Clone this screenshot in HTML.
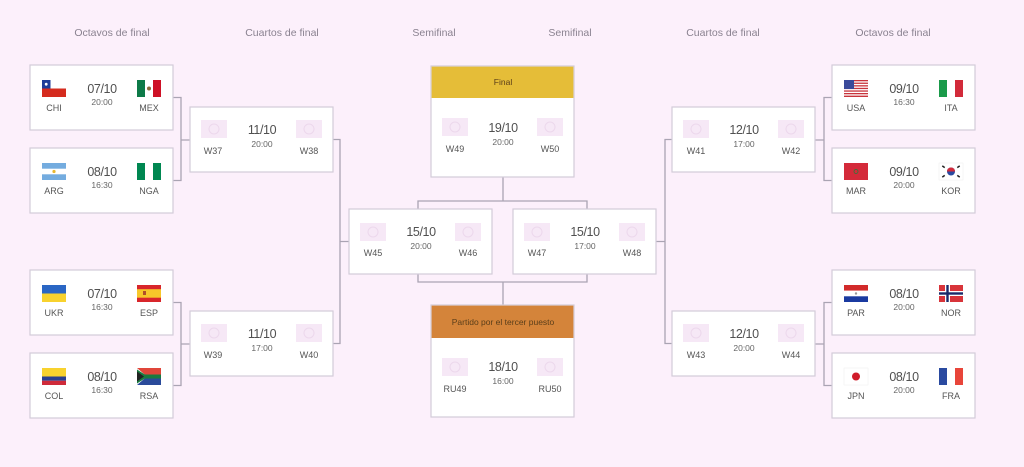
<!DOCTYPE html>
<html><head><meta charset="utf-8">
<style>
html,body{margin:0;padding:0;background:#fcf0fb;}
svg{display:block;}
text{font-family:"Liberation Sans",sans-serif;fill:#555;}
.lbl{font-size:10.5px;fill:#8a8290;text-anchor:middle;}
.date{font-size:12.5px;text-anchor:middle;fill:#505050;letter-spacing:-0.4px;}
.time{font-size:8.5px;text-anchor:middle;fill:#666;}
.code{font-size:9px;text-anchor:middle;fill:#555;}
.hdr{font-size:8.5px;text-anchor:middle;fill:#5a3e1a;}
.box{fill:#fff;stroke:#d3ccd9;stroke-width:1.2;}
.ln{fill:none;stroke:#aaa4b3;stroke-width:1.3;}
.ph{fill:#f6e8f6;}
.phc{fill:none;stroke:#ecd8ec;stroke-width:1;}
</style></head><body>
<svg width="1024" height="467" viewBox="0 0 1024 467" xmlns="http://www.w3.org/2000/svg">
<defs>
<g id="ph"><rect class="ph" x="0" y="0" width="26" height="18"/><circle class="phc" cx="13" cy="9" r="5"/></g>
</defs>
<rect width="1024" height="467" fill="#fcf0fb"/>

<!-- labels -->
<text class="lbl" x="112" y="36">Octavos de final</text>
<text class="lbl" x="282" y="36">Cuartos de final</text>
<text class="lbl" x="434" y="36">Semifinal</text>
<text class="lbl" x="570" y="36">Semifinal</text>
<text class="lbl" x="723" y="36">Cuartos de final</text>
<text class="lbl" x="893" y="36">Octavos de final</text>

<!-- connectors -->
<path class="ln" d="M173,97.5 H181 V180.5 H173 M181,140 H190"/>
<path class="ln" d="M173,302.5 H181 V385.5 H173 M181,344 H190"/>
<path class="ln" d="M333,139.5 H340 V343.5 H333 M340,241.5 H349"/>
<path class="ln" d="M418,209 V201 H587 V209 M503,201 V177"/>
<path class="ln" d="M418,274 V282 H587 V274 M503,282 V305"/>
<path class="ln" d="M672,139.5 H665 V343.5 H672 M656,241.5 H665"/>
<path class="ln" d="M832,97.5 H824 V180.5 H832 M815,140 H824"/>
<path class="ln" d="M832,302.5 H824 V385.5 H832 M815,344 H824"/>

<!-- ============ LEFT R16 ============ -->
<!-- CHI-MEX -->
<g transform="translate(30,65)">
<rect class="box" x="0" y="0" width="143" height="65"/>
<g transform="translate(12,15)"><rect width="24" height="8.5" fill="#fff"/><rect y="8.5" width="24" height="8.5" fill="#d52b1e"/><rect width="8.5" height="8.5" fill="#1f3d99"/><circle cx="4.2" cy="4.2" r="1.4" fill="#fff"/></g>
<text class="code" x="24" y="46">CHI</text>
<text class="date" x="72" y="28">07/10</text>
<text class="time" x="72" y="40">20:00</text>
<g transform="translate(107,15)"><rect width="8" height="17" fill="#0d7a48"/><rect x="8" width="8" height="17" fill="#fff"/><rect x="16" width="8" height="17" fill="#ce1126"/><circle cx="12" cy="8.5" r="2" fill="#8a6a3a"/></g>
<text class="code" x="119" y="46">MEX</text>
</g>
<!-- ARG-NGA -->
<g transform="translate(30,148)">
<rect class="box" x="0" y="0" width="143" height="65"/>
<g transform="translate(12,15)"><rect width="24" height="17" fill="#fff"/><rect width="24" height="5.7" fill="#74acdf"/><rect y="11.3" width="24" height="5.7" fill="#74acdf"/><circle cx="12" cy="8.5" r="1.6" fill="#e8b830"/></g>
<text class="code" x="24" y="46">ARG</text>
<text class="date" x="72" y="28">08/10</text>
<text class="time" x="72" y="40">16:30</text>
<g transform="translate(107,15)"><rect width="8" height="17" fill="#008751"/><rect x="8" width="8" height="17" fill="#fff"/><rect x="16" width="8" height="17" fill="#008751"/></g>
<text class="code" x="119" y="46">NGA</text>
</g>
<!-- UKR-ESP -->
<g transform="translate(30,270)">
<rect class="box" x="0" y="0" width="143" height="65"/>
<g transform="translate(12,15)"><rect width="24" height="8.5" fill="#2a66c4"/><rect y="8.5" width="24" height="8.5" fill="#f8d22e"/></g>
<text class="code" x="24" y="46">UKR</text>
<text class="date" x="72" y="28">07/10</text>
<text class="time" x="72" y="40">16:30</text>
<g transform="translate(107,15)"><rect width="24" height="17" fill="#d8262b"/><rect y="4.2" width="24" height="8.5" fill="#f7c72a"/><rect x="6" y="6" width="3" height="4" fill="#b0502a"/></g>
<text class="code" x="119" y="46">ESP</text>
</g>
<!-- COL-RSA -->
<g transform="translate(30,353)">
<rect class="box" x="0" y="0" width="143" height="65"/>
<g transform="translate(12,15)"><rect width="24" height="8.5" fill="#f8d22e"/><rect y="8.5" width="24" height="4.25" fill="#2a3f8f"/><rect y="12.75" width="24" height="4.25" fill="#cf2a3a"/></g>
<text class="code" x="24" y="46">COL</text>
<text class="date" x="72" y="28">08/10</text>
<text class="time" x="72" y="40">16:30</text>
<g transform="translate(107,15)"><rect width="24" height="8.5" fill="#e0463a"/><rect y="8.5" width="24" height="8.5" fill="#2a4a9a"/><path d="M0,0 L10,8.5 L0,17 Z" fill="#fff"/><path d="M0,1.5 L11,8.5 L0,15.5 Z M8,6.5 H24 V10.5 H8 Z" fill="#1a7a40"/><path d="M0,3.5 L7,8.5 L0,13.5 Z" fill="#222"/></g>
<text class="code" x="119" y="46">RSA</text>
</g>

<!-- ============ LEFT QF ============ -->
<g transform="translate(190,107)">
<rect class="box" x="0" y="0" width="143" height="65"/>
<use href="#ph" x="11" y="13"/><use href="#ph" x="106" y="13"/>
<text class="code" x="23" y="47">W37</text>
<text class="date" x="72" y="27">11/10</text>
<text class="time" x="72" y="40">20:00</text>
<text class="code" x="119" y="47">W38</text>
</g>
<g transform="translate(190,311)">
<rect class="box" x="0" y="0" width="143" height="65"/>
<use href="#ph" x="11" y="13"/><use href="#ph" x="106" y="13"/>
<text class="code" x="23" y="47">W39</text>
<text class="date" x="72" y="27">11/10</text>
<text class="time" x="72" y="40">17:00</text>
<text class="code" x="119" y="47">W40</text>
</g>

<!-- ============ SEMIS ============ -->
<g transform="translate(349,209)">
<rect class="box" x="0" y="0" width="143" height="65"/>
<use href="#ph" x="11" y="14"/><use href="#ph" x="106" y="14"/>
<text class="code" x="24" y="47">W45</text>
<text class="date" x="72" y="27">15/10</text>
<text class="time" x="72" y="40">20:00</text>
<text class="code" x="119" y="47">W46</text>
</g>
<g transform="translate(513,209)">
<rect class="box" x="0" y="0" width="143" height="65"/>
<use href="#ph" x="11" y="14"/><use href="#ph" x="106" y="14"/>
<text class="code" x="24" y="47">W47</text>
<text class="date" x="72" y="27">15/10</text>
<text class="time" x="72" y="40">17:00</text>
<text class="code" x="119" y="47">W48</text>
</g>

<!-- ============ FINAL ============ -->
<g transform="translate(431,66)">
<rect class="box" x="0" y="0" width="143" height="111"/>
<rect x="0.6" y="0.6" width="141.8" height="31.4" fill="#e5bd38"/>
<text class="hdr" x="72" y="19">Final</text>
<use href="#ph" x="11" y="52"/><use href="#ph" x="106" y="52"/>
<text class="code" x="24" y="86">W49</text>
<text class="date" x="72" y="66">19/10</text>
<text class="time" x="72" y="79">20:00</text>
<text class="code" x="119" y="86">W50</text>
</g>

<!-- ============ THIRD PLACE ============ -->
<g transform="translate(431,305)">
<rect class="box" x="0" y="0" width="143" height="112"/>
<rect x="0.6" y="0.6" width="141.8" height="32.4" fill="#d4843a"/>
<text class="hdr" x="72" y="20">Partido por el tercer puesto</text>
<use href="#ph" x="11" y="53"/><use href="#ph" x="106" y="53"/>
<text class="code" x="24" y="87">RU49</text>
<text class="date" x="72" y="66">18/10</text>
<text class="time" x="72" y="79">16:00</text>
<text class="code" x="119" y="87">RU50</text>
</g>

<!-- ============ RIGHT QF ============ -->
<g transform="translate(672,107)">
<rect class="box" x="0" y="0" width="143" height="65"/>
<use href="#ph" x="11" y="13"/><use href="#ph" x="106" y="13"/>
<text class="code" x="24" y="47">W41</text>
<text class="date" x="72" y="27">12/10</text>
<text class="time" x="72" y="40">17:00</text>
<text class="code" x="119" y="47">W42</text>
</g>
<g transform="translate(672,311)">
<rect class="box" x="0" y="0" width="143" height="65"/>
<use href="#ph" x="11" y="13"/><use href="#ph" x="106" y="13"/>
<text class="code" x="24" y="47">W43</text>
<text class="date" x="72" y="27">12/10</text>
<text class="time" x="72" y="40">20:00</text>
<text class="code" x="119" y="47">W44</text>
</g>

<!-- ============ RIGHT R16 ============ -->
<!-- USA-ITA -->
<g transform="translate(832,65)">
<rect class="box" x="0" y="0" width="143" height="65"/>
<g transform="translate(12,15)"><rect width="24" height="17" fill="#fff"/>
<rect y="0" width="24" height="1.3" fill="#c8343c"/><rect y="2.6" width="24" height="1.3" fill="#c8343c"/><rect y="5.2" width="24" height="1.3" fill="#c8343c"/><rect y="7.8" width="24" height="1.3" fill="#c8343c"/><rect y="10.4" width="24" height="1.3" fill="#c8343c"/><rect y="13" width="24" height="1.3" fill="#c8343c"/><rect y="15.6" width="24" height="1.4" fill="#c8343c"/>
<rect width="10" height="9" fill="#3a4a9a"/></g>
<text class="code" x="24" y="46">USA</text>
<text class="date" x="72" y="28">09/10</text>
<text class="time" x="72" y="40">16:30</text>
<g transform="translate(107,15)"><rect width="8" height="17" fill="#1a9a4a"/><rect x="8" width="8" height="17" fill="#fff"/><rect x="16" width="8" height="17" fill="#d22a3a"/></g>
<text class="code" x="119" y="46">ITA</text>
</g>
<!-- MAR-KOR -->
<g transform="translate(832,148)">
<rect class="box" x="0" y="0" width="143" height="65"/>
<g transform="translate(12,15)"><rect width="24" height="17" fill="#d42a3a"/><circle cx="12" cy="8.5" r="2" fill="none" stroke="#2a7a3a" stroke-width="0.8"/></g>
<text class="code" x="24" y="46">MAR</text>
<text class="date" x="72" y="28">09/10</text>
<text class="time" x="72" y="40">20:00</text>
<g transform="translate(107,15)"><rect width="24" height="17" fill="#fff" stroke="#eee" stroke-width="0.5"/><circle cx="12" cy="8.5" r="4" fill="#2a4aa0"/><path d="M8,8.5 A4,4 0 0 1 16,8.5 Z" fill="#d22a3a"/><rect x="3" y="3" width="3" height="1.5" fill="#222" transform="rotate(35 4.5 3.75)"/><rect x="18" y="3" width="3" height="1.5" fill="#222" transform="rotate(-35 19.5 3.75)"/><rect x="3" y="12.5" width="3" height="1.5" fill="#222" transform="rotate(-35 4.5 13.25)"/><rect x="18" y="12.5" width="3" height="1.5" fill="#222" transform="rotate(35 19.5 13.25)"/></g>
<text class="code" x="119" y="46">KOR</text>
</g>
<!-- PAR-NOR -->
<g transform="translate(832,270)">
<rect class="box" x="0" y="0" width="143" height="65"/>
<g transform="translate(12,15)"><rect width="24" height="5.7" fill="#d22a2a"/><rect y="5.7" width="24" height="5.6" fill="#fff"/><rect y="11.3" width="24" height="5.7" fill="#1a3aa0"/><circle cx="12" cy="8.5" r="1.2" fill="#999"/></g>
<text class="code" x="24" y="46">PAR</text>
<text class="date" x="72" y="28">08/10</text>
<text class="time" x="72" y="40">20:00</text>
<g transform="translate(107,15)"><rect width="24" height="17" fill="#d8343a"/><rect x="6" width="5" height="17" fill="#fff"/><rect y="6" width="24" height="5" fill="#fff"/><rect x="7.3" width="2.4" height="17" fill="#1a2a6a"/><rect y="7.3" width="24" height="2.4" fill="#1a2a6a"/></g>
<text class="code" x="119" y="46">NOR</text>
</g>
<!-- JPN-FRA -->
<g transform="translate(832,353)">
<rect class="box" x="0" y="0" width="143" height="65"/>
<g transform="translate(12,15)"><rect width="24" height="17" fill="#fff" stroke="#eee" stroke-width="0.5"/><circle cx="12" cy="8.5" r="4" fill="#d01c2a"/></g>
<text class="code" x="24" y="46">JPN</text>
<text class="date" x="72" y="28">08/10</text>
<text class="time" x="72" y="40">20:00</text>
<g transform="translate(107,15)"><rect width="8" height="17" fill="#2a4aa0"/><rect x="8" width="8" height="17" fill="#fff"/><rect x="16" width="8" height="17" fill="#e8453a"/></g>
<text class="code" x="119" y="46">FRA</text>
</g>
</svg>
</body></html>
